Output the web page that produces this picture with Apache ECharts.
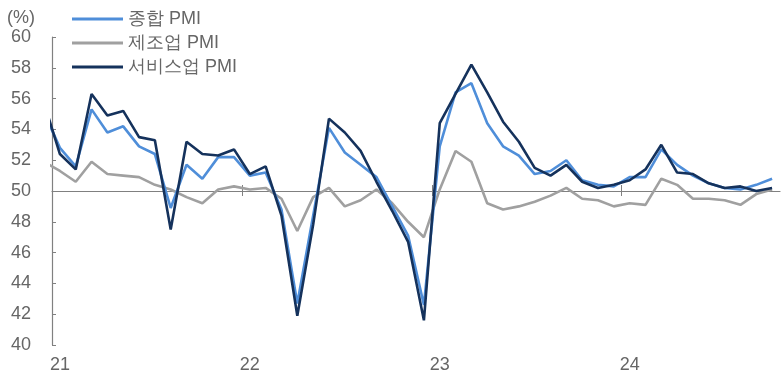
<!DOCTYPE html>
<html>
<head>
<meta charset="utf-8">
<script src="https://cdn.jsdelivr.net/npm/echarts@6/dist/echarts.min.js"></script>
<style>
  html, body { margin: 0; padding: 0; background: #fff; }
  #chart { width: 783px; height: 374px; }
</style>
</head>
<body>
<div id="chart"></div>
<script>
// Monthly PMI, Dec 2020 through Oct 2024
const months = [
  '2020-12',
  '2021-01','2021-02','2021-03','2021-04','2021-05','2021-06','2021-07','2021-08','2021-09','2021-10','2021-11','2021-12',
  '2022-01','2022-02','2022-03','2022-04','2022-05','2022-06','2022-07','2022-08','2022-09','2022-10','2022-11','2022-12',
  '2023-01','2023-02','2023-03','2023-04','2023-05','2023-06','2023-07','2023-08','2023-09','2023-10','2023-11','2023-12',
  '2024-01','2024-02','2024-03','2024-04','2024-05','2024-06','2024-07','2024-08','2024-09','2024-10'
];
const composite = [
  55.1,
  52.8, 51.6, 55.3, 53.8, 54.2, 52.9, 52.4, 48.9, 51.7, 50.8, 52.2, 52.2,
  51.0, 51.2, 48.8, 42.7, 48.4, 54.1, 52.5, 51.7, 50.9, 49.0, 47.1, 42.6,
  52.9, 56.4, 57.0, 54.4, 52.9, 52.3, 51.1, 51.3, 52.0, 50.7, 50.4, 50.3,
  50.9, 50.9, 52.7, 51.7, 51.0, 50.5, 50.2, 50.1, 50.4, 50.8
];
const manufacturing = [
  51.9,
  51.3, 50.6, 51.9, 51.1, 51.0, 50.9, 50.4, 50.1, 49.6, 49.2, 50.1, 50.3,
  50.1, 50.2, 49.5, 47.4, 49.6, 50.2, 49.0, 49.4, 50.1, 49.2, 48.0, 47.0,
  50.1, 52.6, 51.9, 49.2, 48.8, 49.0, 49.3, 49.7, 50.2, 49.5, 49.4, 49.0,
  49.2, 49.1, 50.8, 50.4, 49.5, 49.5, 49.4, 49.1, 49.8, 50.1
];
const services = [
  55.7,
  52.4, 51.4, 56.3, 54.9, 55.2, 53.5, 53.3, 47.5, 53.2, 52.4, 52.3, 52.7,
  51.1, 51.6, 48.4, 41.9, 47.8, 54.7, 53.8, 52.6, 50.6, 48.7, 46.7, 41.6,
  54.4, 56.3, 58.2, 56.4, 54.5, 53.2, 51.5, 51.0, 51.7, 50.6, 50.2, 50.4,
  50.7, 51.4, 53.0, 51.2, 51.1, 50.5, 50.2, 50.3, 50.0, 50.2
];
const seriesNames = ['종합 PMI', '제조업 PMI', '서비스업 PMI'];
const yearLabels = ['21', '22', '23', '24'];

// x position in months counted from 1 Jan 2021; each point sits mid-month
function monthPos(m) {
  const [y, mo] = m.split('-').map(Number);
  return (y - 2021) * 12 + (mo - 1) + 0.5;
}
const pair = vals => months.map((m, i) => [monthPos(m), vals[i]]);

const X_MIN = 0, X_MAX = 46;
const yearTicks = yearLabels.map((_, i) => i * 12);
const yearLabelPos = yearLabels.map((_, i) => i * 12 + 0.5);

const gray = '#808080';
const font = 'Liberation Sans, Arial, sans-serif';

const baseX = {
  type: 'value', min: X_MIN, max: X_MAX, splitLine: { show: false }
};

const chart = echarts.init(document.getElementById('chart'), null, { renderer: 'canvas' });
chart.setOption({
  animation: false,
  backgroundColor: '#fff',
  textStyle: { fontFamily: font },
  title: {
    text: '(%)', left: 7, top: 9, padding: 0,
    textStyle: { fontSize: 18, fontWeight: 'normal', color: '#666', fontFamily: font }
  },
  legend: {
    data: seriesNames,
    orient: 'vertical',
    left: 72, top: 9, padding: 0,
    itemWidth: 51, itemHeight: 3, itemGap: 4,
    icon: 'rect',
    textStyle: { fontSize: 18, color: '#666', lineHeight: 20, fontFamily: font }
  },
  grid: { left: 52, right: 3, top: 37, bottom: 29, containLabel: false },
  xAxis: [
    Object.assign({}, baseX, {
      position: 'bottom',
      axisLine: { show: false },
      axisTick: { show: false },
      axisLabel: {
        customValues: yearLabelPos,
        formatter: v => yearLabels[Math.round((v - 0.5) / 12)] || '',
        fontSize: 18, color: '#666', margin: 11, fontFamily: font
      }
    }),
    // the 50 reference line with year ticks crossing it
    Object.assign({}, baseX, {
      position: 'bottom', offset: -154,
      axisLine: { show: true, lineStyle: { color: gray, width: 1.2 } },
      axisTick: { show: true, inside: true, length: 6, customValues: yearTicks.slice(1), lineStyle: { color: gray } },
      axisLabel: { show: false }
    }),
    Object.assign({}, baseX, {
      position: 'bottom', offset: -154,
      axisLine: { show: false },
      axisTick: { show: true, inside: false, length: 5, customValues: yearTicks.slice(1), lineStyle: { color: gray } },
      axisLabel: { show: false }
    })
  ],
  yAxis: {
    type: 'value', min: 40, max: 60, interval: 2,
    axisLine: { show: true, lineStyle: { color: gray, width: 1.2 } },
    axisTick: { show: true, inside: true, length: 4, lineStyle: { color: gray } },
    axisLabel: { fontSize: 18, color: '#666', margin: 21, fontFamily: font },
    splitLine: { show: false }
  },
  series: [
    {
      name: seriesNames[1], type: 'line', data: pair(manufacturing),
      showSymbol: false, symbol: 'none', clip: true,
      lineStyle: { color: '#a0a0a0', width: 2.6 }, itemStyle: { color: '#a0a0a0' }, z: 2
    },
    {
      name: seriesNames[0], type: 'line', data: pair(composite),
      showSymbol: false, symbol: 'none', clip: true,
      lineStyle: { color: '#4f8ed9', width: 2.6 }, itemStyle: { color: '#4f8ed9' }, z: 3
    },
    {
      name: seriesNames[2], type: 'line', data: pair(services),
      showSymbol: false, symbol: 'none', clip: true,
      lineStyle: { color: '#15325c', width: 2.6 }, itemStyle: { color: '#15325c' }, z: 4
    }
  ]
});
</script>
</body>
</html>
